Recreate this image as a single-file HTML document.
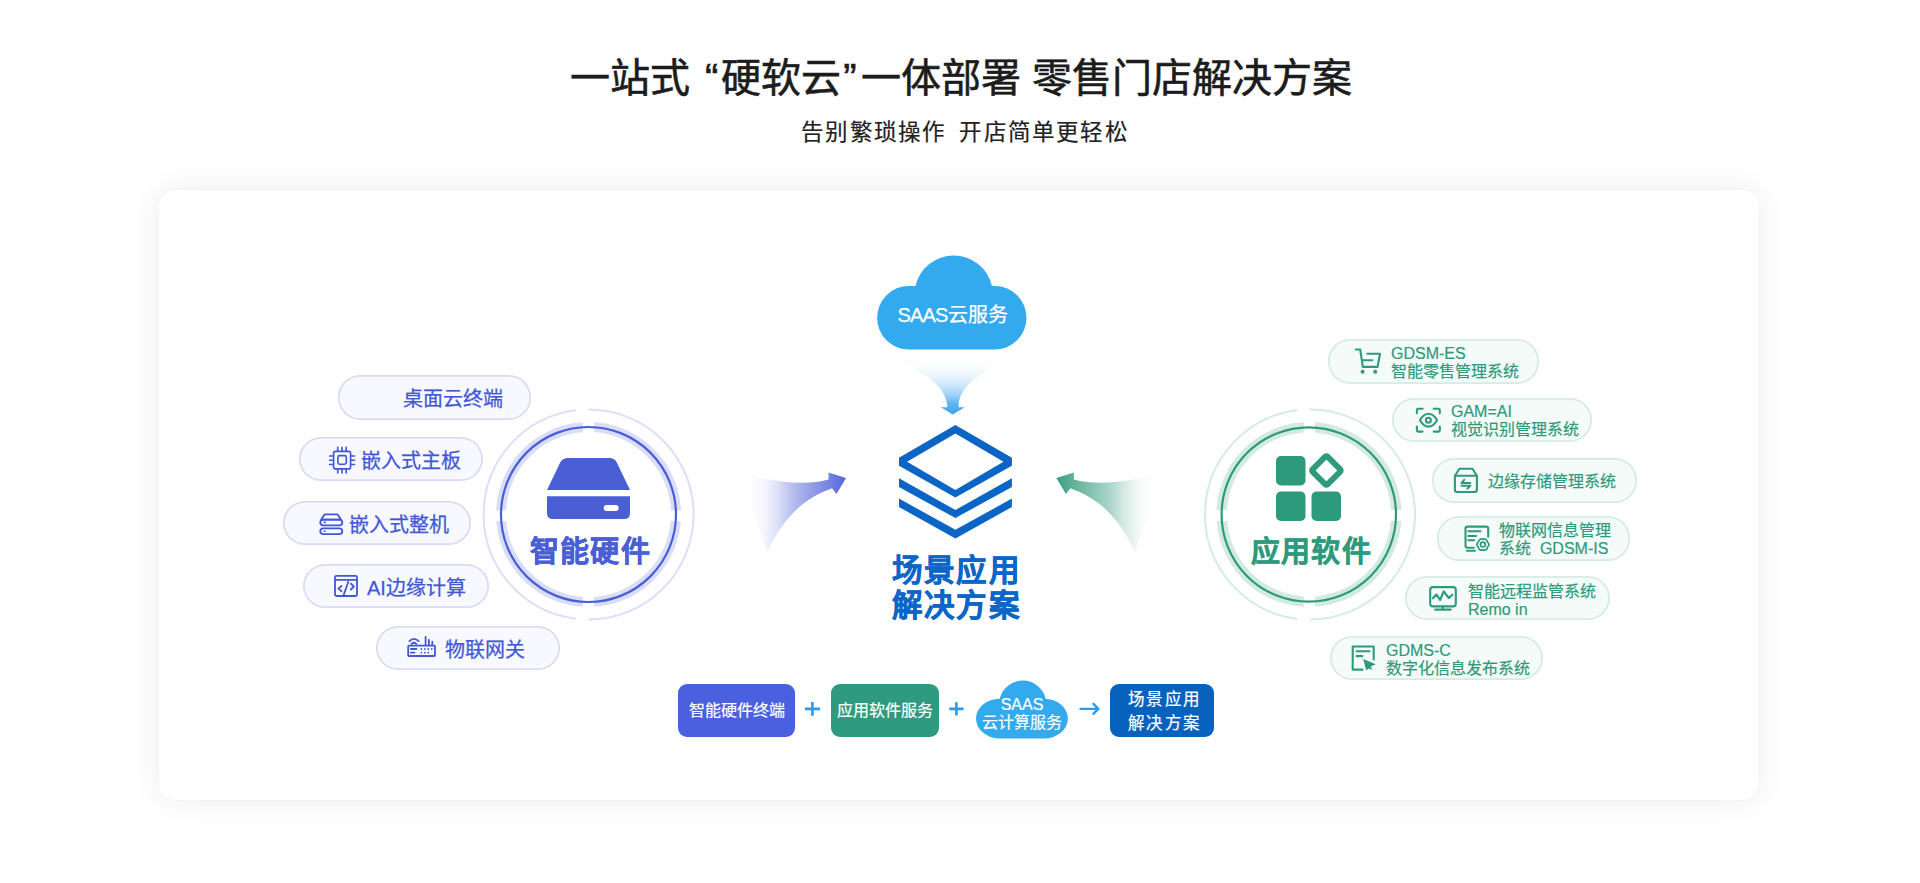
<!DOCTYPE html>
<html lang="zh-CN">
<head>
<meta charset="utf-8">
<title>一站式“硬软云”一体部署 零售门店解决方案</title>
<style>
html,body{margin:0;padding:0;background:#fff;}
body{width:1920px;height:883px;position:relative;overflow:hidden;font-family:"Liberation Sans",sans-serif;}
.abs{position:absolute;}
.title{position:absolute;left:0;width:1922px;top:53.5px;text-align:center;font-size:40px;-webkit-text-stroke:0.6px #1c1c1c;line-height:48px;color:#1c1c1c;white-space:nowrap;}
.sub{position:absolute;left:4px;width:1922px;top:118.5px;text-align:center;font-size:22.5px;letter-spacing:1.2px;-webkit-text-stroke:0.2px #222;line-height:28px;color:#222;white-space:nowrap;}
.card{position:absolute;left:159px;top:190px;width:1600px;height:610px;border-radius:16px;background:#fff;box-shadow:0 0 2px rgba(30,45,90,0.05),0 0 30px rgba(30,45,90,0.085);}
.pill{position:absolute;height:40px;border-radius:22px;box-sizing:border-box;}
.pl{box-shadow:inset 0 0 0 1.8px #dadcf6;background:#f8f9fe;color:#4257d6;}
.pr{box-shadow:inset 0 0 0 1.8px #d6ece3;background:#f5fbf8;color:#2e9a7c;}
.pl .t{position:absolute;font-size:20px;line-height:24px;white-space:nowrap;-webkit-text-stroke:0.25px #4257d6;}
.pr .t{position:absolute;font-size:16px;line-height:18px;white-space:nowrap;-webkit-text-stroke:0.2px #2e9a7c;}
.pl svg,.pr svg{position:absolute;overflow:visible;}
.box{position:absolute;top:684px;height:53px;border-radius:9px;color:#fff;font-size:16px;line-height:22px;text-align:center;white-space:nowrap;-webkit-text-stroke:0.2px #fff;}
</style>
</head>
<body>
<div class="title">一站式 <span style="margin:0 2.5px 0 3.5px">“</span>硬软云<span style="margin:0 4px 0 2.5px">”</span>一体部署 零售门店解决方案</div>
<div class="sub">告别繁琐操作<span style="display:inline-block;width:13px"></span>开店简单更轻松</div>
<div class="card"></div>

<!-- main svg graphics -->
<svg class="abs" style="left:0;top:0" width="1920" height="883" viewBox="0 0 1920 883">
  <defs>
    <linearGradient id="gl" x1="748" y1="0" x2="846" y2="0" gradientUnits="userSpaceOnUse"><stop offset="0" stop-color="#5566da" stop-opacity="0"/><stop offset="0.15" stop-color="#5566da" stop-opacity="0.05"/><stop offset="0.3" stop-color="#5566da" stop-opacity="0.2"/><stop offset="0.45" stop-color="#5566da" stop-opacity="0.42"/><stop offset="0.6" stop-color="#5566da" stop-opacity="0.58"/><stop offset="0.8" stop-color="#5566da" stop-opacity="0.78"/><stop offset="1" stop-color="#5566da" stop-opacity="1"/></linearGradient>
    <linearGradient id="gr" x1="1154.4" y1="0" x2="1056.4" y2="0" gradientUnits="userSpaceOnUse"><stop offset="0" stop-color="#3a9e80" stop-opacity="0"/><stop offset="0.15" stop-color="#3a9e80" stop-opacity="0.05"/><stop offset="0.3" stop-color="#3a9e80" stop-opacity="0.2"/><stop offset="0.45" stop-color="#3a9e80" stop-opacity="0.42"/><stop offset="0.6" stop-color="#3a9e80" stop-opacity="0.58"/><stop offset="0.8" stop-color="#3a9e80" stop-opacity="0.78"/><stop offset="1" stop-color="#3a9e80" stop-opacity="1"/></linearGradient>
    <linearGradient id="gf" x1="0" y1="356" x2="0" y2="414" gradientUnits="userSpaceOnUse"><stop offset="0" stop-color="#3ea6ee" stop-opacity="0"/><stop offset="0.17" stop-color="#3ea6ee" stop-opacity="0.03"/><stop offset="0.33" stop-color="#3ea6ee" stop-opacity="0.1"/><stop offset="0.5" stop-color="#3ea6ee" stop-opacity="0.25"/><stop offset="0.67" stop-color="#3ea6ee" stop-opacity="0.5"/><stop offset="0.83" stop-color="#3ea6ee" stop-opacity="0.85"/><stop offset="1" stop-color="#3ea6ee" stop-opacity="1"/></linearGradient>
  </defs>

  <!-- left circle -->
  <g fill="none">
    <path d="M588.6 409.5A105 105 0 0 1 588.6 619.5M576 618.74A105 105 0 0 1 576 410.26" stroke="#dcdff6" stroke-width="2"/>
    <circle cx="588.5" cy="514.5" r="87.5" stroke="#d9ddf6" stroke-width="10"/>
    <g fill="#fff"><rect x="582.8" y="420" width="11.4" height="14"/><rect x="582.8" y="595" width="11.4" height="14"/><rect x="494" y="510.4" width="14" height="10.7"/><rect x="669" y="510.4" width="14" height="10.7"/></g>
    <circle cx="588.5" cy="514.5" r="87.5" stroke="#4a5ed6" stroke-width="2.2"/>
  </g>
  <!-- hardware icon -->
  <path d="M568 458H609.5Q614.5 458 616.8 462.5L630 490H547L560.2 462.5Q562.5 458 568 458Z" fill="#4a5ed6"/>
  <path d="M547 496.3H630V513Q630 519 624 519H553Q547 519 547 513Z" fill="#4a5ed6"/>
  <rect x="603.7" y="505" width="15" height="6" rx="3" fill="#fff"/>

  <!-- right circle -->
  <g fill="none">
    <path d="M1310 409.5A105 105 0 0 1 1310 619.5M1297.4 618.74A105 105 0 0 1 1297.4 410.26" stroke="#d6ece3" stroke-width="2"/>
    <circle cx="1309" cy="514.5" r="87.3" stroke="#d3eae1" stroke-width="10.5"/>
    <g fill="#fff"><rect x="1303.8" y="420" width="11.2" height="14"/><rect x="1303.8" y="595" width="11.2" height="14"/><rect x="1215" y="510" width="14" height="11"/><rect x="1390" y="510" width="14" height="11"/></g>
    <circle cx="1308.8" cy="514.5" r="87.2" stroke="#2e9a7c" stroke-width="2.2"/>
  </g>
  <!-- app icon -->
  <g fill="#2e9a7c">
    <rect x="1276" y="456" width="29.5" height="29.5" rx="5"/>
    <rect x="1276" y="491.5" width="29.5" height="29.5" rx="5"/>
    <rect x="1311.5" y="491.5" width="29.5" height="29.5" rx="5"/>
  </g>
  <rect x="1315.8" y="459.9" width="21.2" height="21.2" rx="1.6" transform="rotate(45 1326.4 470.5)" fill="none" stroke="#2e9a7c" stroke-width="5.8"/>

  <!-- arrows -->
  <path d="M737 472.5C760 478 800 488 828.5 479.5L828.5 472.5L846 478L836.5 494L832 488.3C805 498 785 515 767.4 551.7C760 530 745 500 737 472.5Z" fill="url(#gl)"/>
  <path d="M1165.4 472.5C1142.4 478 1102.4 488 1073.9 479.5L1073.9 472.5L1056.4 478L1065.9 494L1070.4 488.3C1097.4 498 1117.4 515 1135 551.7C1142.4 530 1157.4 500 1165.4 472.5Z" fill="url(#gr)"/>

  <!-- cloud -->
  <path d="M909 349.6A31.85 31.85 0 0 1 909 285.9L915.5 285.9A39.2 39.2 0 0 1 991.9 285.9L994.6 285.9A31.85 31.85 0 0 1 994.6 349.6Z" fill="#33a9ee"/>
  <!-- funnel -->
  <path d="M897 357L1005 357C985 372 961 383 958.5 404.5V407.3H964.8L952.8 414.6L940.8 407.3H947.2V404.5C944.5 383 919 372 897 357Z" fill="url(#gf)"/>

  <!-- layers -->
  <path fill-rule="evenodd" fill="#0a65c5" d="M955.4 425L1011.9 457.7V465.8L955.4 497.4L899 465.8V457.7ZM955.4 433.4L907.1 461.8L955.4 490.1L1003.5 461.8Z"/>
  <path fill="#0a65c5" d="M899 478.3L955.4 510L1011.9 478.3V487.1L955.4 518L899 487.1Z"/>
  <path fill="#0a65c5" d="M899 498.6L955.4 529.8L1011.9 498.6V507L955.4 538.4L899 507Z"/>

  <!-- bottom cloud -->
  <path d="M999.7 738.4A23.7 19.8 0 0 1 999.7 698.8A23.63 23.63 0 0 1 1045.7 698.8L1044.2 698.8A23.7 19.8 0 0 1 1044.2 738.4Z" fill="#33a9ee"/>
  <!-- plus signs / arrow -->
  <g stroke="#2a9af0" stroke-width="2.6" fill="none">
    <path d="M805 708.9H820M812.4 702V715.7"/>
    <path d="M949.3 708.9H963.6M956.4 702.2V715.6"/>
  </g>
  <path d="M1080.5 708.9H1098.2M1093.4 703.9L1098.4 708.9L1093.4 713.9" stroke="#2a9af0" stroke-width="2.3" fill="none" stroke-linecap="round" stroke-linejoin="round"/>
</svg>

<!-- center texts -->
<div class="abs" style="left:876.5px;top:303px;width:152px;text-align:center;color:#fff;font-size:20px;line-height:24px;white-space:nowrap;-webkit-text-stroke:0.25px #fff;"><span style="font-size:20px;letter-spacing:-0.8px">SAAS</span>云服务</div>
<div class="abs" style="left:861.5px;top:552.5px;width:190px;text-align:center;color:#0d66c7;font-size:30.5px;line-height:35.7px;font-weight:bold;letter-spacing:2.2px;-webkit-text-stroke:0.5px #0d66c7;">场景应用<br>解决方案</div>
<div class="abs" style="left:490.5px;top:533.5px;width:200px;text-align:center;color:#4a5ed6;font-size:29px;line-height:36px;font-weight:bold;letter-spacing:1.2px;-webkit-text-stroke:0.4px #4a5ed6;">智能硬件</div>
<div class="abs" style="left:1211.5px;top:533.5px;width:200px;text-align:center;color:#2e9a7c;font-size:29px;line-height:36px;font-weight:bold;letter-spacing:1.2px;-webkit-text-stroke:0.4px #2e9a7c;">应用软件</div>

<!-- left pills -->
<div class="pill pl" style="left:338px;top:375px;width:193px;height:44.7px;"><span class="t" style="left:65px;top:12px;">桌面云终端</span></div>
<div class="pill pl" style="left:299px;top:437px;width:183.5px;height:44px;">
  <svg style="left:0;top:0" width="184" height="44" viewBox="299 437 184 44"><g fill="none" stroke="#4257d6" stroke-width="1.65" stroke-linecap="round"><rect x="333.6" y="451.3" width="17" height="17.6" rx="2"/><rect x="337.9" y="455.6" width="8.4" height="8.6" rx="1.6"/><path d="M337.7 447.4V451M342 447.4V451M346.2 447.4V451M337.7 469.2V473M342 469.2V473M346.2 469.2V473M329.6 456H333.2M329.6 460.2H333.2M329.6 464.5H333.2M351 456H354.6M351 460.2H354.6M351 464.5H354.6"/></g></svg>
  <span class="t" style="left:62px;top:12px;">嵌入式主板</span></div>
<div class="pill pl" style="left:283px;top:501px;width:188px;height:44px;">
  <svg style="left:0;top:0" width="188" height="44" viewBox="283 501 188 44"><g fill="none" stroke="#4257d6" stroke-width="1.8" stroke-linejoin="round"><path d="M324.6 514.4H337.6L341 519.6H321.2Z"/><rect x="320.3" y="519.6" width="22" height="5.8" rx="2.9"/><rect x="320.3" y="528.4" width="22" height="5.8" rx="2.9"/></g><g fill="#4257d6"><rect x="323.5" y="521.6" width="2.4" height="1.6" rx=".8"/><rect x="323.5" y="530.5" width="2.4" height="1.6" rx=".8"/></g></svg>
  <span class="t" style="left:65.5px;top:12px;">嵌入式整机</span></div>
<div class="pill pl" style="left:303px;top:564px;width:185.6px;height:44px;">
  <svg style="left:0;top:0" width="186" height="44" viewBox="303 564 186 44"><g fill="none" stroke="#4257d6" stroke-width="1.8" stroke-linecap="round" stroke-linejoin="round"><rect x="335" y="575.8" width="22" height="20.2" rx="1.5"/><path d="M335 579.8H357M341.5 586L338.4 588.6L341.5 591.2M350.8 583.6L353.9 586.5L350.8 589.5M348.3 581.8L343.8 594.6"/></g></svg>
  <span class="t" style="left:64px;top:12px;">AI边缘计算</span></div>
<div class="pill pl" style="left:376px;top:626px;width:183.6px;height:44px;">
  <svg style="left:0;top:0" width="184" height="44" viewBox="376 626 184 44"><g fill="none" stroke="#4257d6" stroke-width="1.8" stroke-linecap="round"><rect x="408.2" y="645.6" width="26.8" height="10.4" rx=".8"/><path d="M425.6 637V645M428.9 639.8V645M432.3 641.6V645M409.4 641.2Q413.9 636.6 418.6 641.2M411.6 643.9Q413.9 641.6 416.3 643.9M410.9 649H416.5M410.9 652.7H414.5"/></g><g fill="#4257d6"><circle cx="421.4" cy="649" r=".9"/><circle cx="424.9" cy="649" r=".9"/><circle cx="428.3" cy="649" r=".9"/><circle cx="431.8" cy="649" r=".9"/><circle cx="421.4" cy="652.7" r=".9"/><circle cx="424.9" cy="652.7" r=".9"/><circle cx="428.3" cy="652.7" r=".9"/></g></svg>
  <span class="t" style="left:68.6px;top:12px;">物联网关</span></div>

<!-- right pills -->
<div class="pill pr" style="left:1328.2px;top:339.2px;width:211px;height:44.5px;">
  <svg style="left:0;top:0" width="211" height="44" viewBox="1328.2 339.2 211 44"><g fill="none" stroke="#2e9a7c" stroke-width="2.1" stroke-linecap="round" stroke-linejoin="round"><path d="M1356 349.7H1360.4L1363 367.1H1377.8L1380.2 353.9H1367.5M1363 360.5H1372.4"/></g><g fill="#2e9a7c"><circle cx="1362.8" cy="371.9" r="2"/><circle cx="1375.4" cy="371.9" r="2"/></g></svg>
  <span class="t" style="left:62.8px;top:5.8px;">GDSM-ES<br>智能零售管理系统</span></div>
<div class="pill pr" style="left:1392.1px;top:398.2px;width:199.9px;height:44px;">
  <svg style="left:0;top:0" width="200" height="44" viewBox="1392.1 398.2 200 44"><g fill="none" stroke="#2e9a7c" stroke-width="2.1" stroke-linecap="round" stroke-linejoin="round"><path d="M1417 413.5V410.3Q1417 409 1418.3 409H1422.7M1433.8 409H1438.5Q1439.9 409 1439.9 410.3V413.5M1417 426.8V430.3Q1417 431.8 1418.3 431.8H1422.7M1433.8 431.8H1438.5Q1439.9 431.8 1439.9 430.3V426.8M1420 420.4C1422.5 416.2 1425.5 414 1428.6 414C1431.7 414 1434.7 416.2 1437.2 420.4C1434.7 424.6 1431.7 426.8 1428.6 426.8C1425.5 426.8 1422.5 424.6 1420 420.4Z"/><circle cx="1428.5" cy="420.4" r="2.5" stroke-width="2.1"/></g></svg>
  <span class="t" style="left:58.9px;top:4.8px;">GAM=AI<br>视觉识别管理系统</span></div>
<div class="pill pr" style="left:1432.1px;top:458.2px;width:204.6px;height:44.4px;">
  <svg style="left:0;top:0" width="205" height="44" viewBox="1432.1 458.2 205 44"><g fill="none" stroke="#2e9a7c" stroke-width="2.1" stroke-linecap="round" stroke-linejoin="round"><path d="M1455 476L1459.5 469H1472.6L1477 476M1455 476V490Q1455 492.2 1457.2 492.2H1474.8Q1477 492.2 1477 490V476Z"/><path d="M1461.6 483.3H1470.4M1461.6 483.3L1464.3 480M1461.6 485.9H1470.4M1470.4 485.9L1467.5 488.8" stroke-width="2"/></g></svg>
  <span class="t" style="left:55.9px;top:15.3px;">边缘存储管理系统</span></div>
<div class="pill pr" style="left:1436.5px;top:516.2px;width:193.2px;height:44.4px;">
  <svg style="left:0;top:0" width="193" height="44" viewBox="1436.5 516.2 193 44"><g fill="none" stroke="#2e9a7c" stroke-width="2.1" stroke-linecap="round" stroke-linejoin="round"><path d="M1473.3 548H1467Q1465 548 1465 546V528.8Q1465 526.8 1467 526.8H1485.7Q1487.7 526.8 1487.7 528.8V537M1467.8 531.5H1480M1467.8 536.2H1475.6M1467.8 540.4H1473.6M1466.4 551H1474.5"/><path d="M1482.40 539.60A3.0 3.0 0 0 1 1486.90 542.20A3.0 3.0 0 0 1 1486.90 547.40A3.0 3.0 0 0 1 1482.40 550.00A3.0 3.0 0 0 1 1477.90 547.40A3.0 3.0 0 0 1 1477.90 542.20A3.0 3.0 0 0 1 1482.40 539.60Z" stroke-width="1.7"/><circle cx="1482.4" cy="544.8" r="2.4" stroke-width="1.7"/></g></svg>
  <span class="t" style="left:62.5px;top:6.3px;">物联网信息管理<br>系统&nbsp;&nbsp;GDSM-IS</span></div>
<div class="pill pr" style="left:1405.1px;top:576.2px;width:204.6px;height:44px;">
  <svg style="left:0;top:0" width="205" height="44" viewBox="1405.1 576.2 205 44"><g fill="none" stroke="#2e9a7c" stroke-width="2.1" stroke-linecap="round" stroke-linejoin="round"><rect x="1430.3" y="587.3" width="25.6" height="19.3" rx="2.6"/><path d="M1442.9 606.6V609.8M1435.3 609.8H1450.8M1433 598.5L1436.6 594.8L1440.2 600.2L1443.8 591.5L1448.9 598.2L1452.5 595"/></g></svg>
  <span class="t" style="left:62.9px;top:7.3px;">智能远程监管系统<br>Remo in</span></div>
<div class="pill pr" style="left:1330.2px;top:636.2px;width:213.3px;height:44px;">
  <svg style="left:0;top:0" width="213" height="44" viewBox="1330.2 636.2 213 44"><g fill="none" stroke="#2e9a7c" stroke-width="2.1" stroke-linecap="round" stroke-linejoin="round"><path d="M1362.8 669.8H1352.9V646.7H1373.9V659.6M1356.8 651.5H1369.7M1356.8 656.3H1362.5"/></g><path fill="#2e9a7c" d="M1363.4 659.3L1376 664.4L1371 666.8L1372.3 670.3L1369.3 668.6L1366.4 670.4Z"/></svg>
  <span class="t" style="left:55.8px;top:6.3px;">GDMS-C<br>数字化信息发布系统</span></div>

<!-- bottom row -->
<div class="box" style="left:678px;width:117px;background:#4a60df;line-height:53px;">智能硬件终端</div>
<div class="box" style="left:831px;width:108px;background:#2e9a80;line-height:53px;">应用软件服务</div>
<div class="abs" style="left:972px;top:696px;width:100px;text-align:center;color:#fff;font-size:16px;line-height:17.5px;white-space:nowrap;-webkit-text-stroke:0.2px #fff;">SAAS<br>云计算服务</div>
<div class="box" style="left:1110px;padding-left:5px;width:99px;background:#0662bd;padding-top:3px;height:50px;font-size:16.5px;line-height:24px;letter-spacing:1.5px;-webkit-text-stroke:0.2px #fff;">场景应用<br>解决方案</div>
</body>
</html>
